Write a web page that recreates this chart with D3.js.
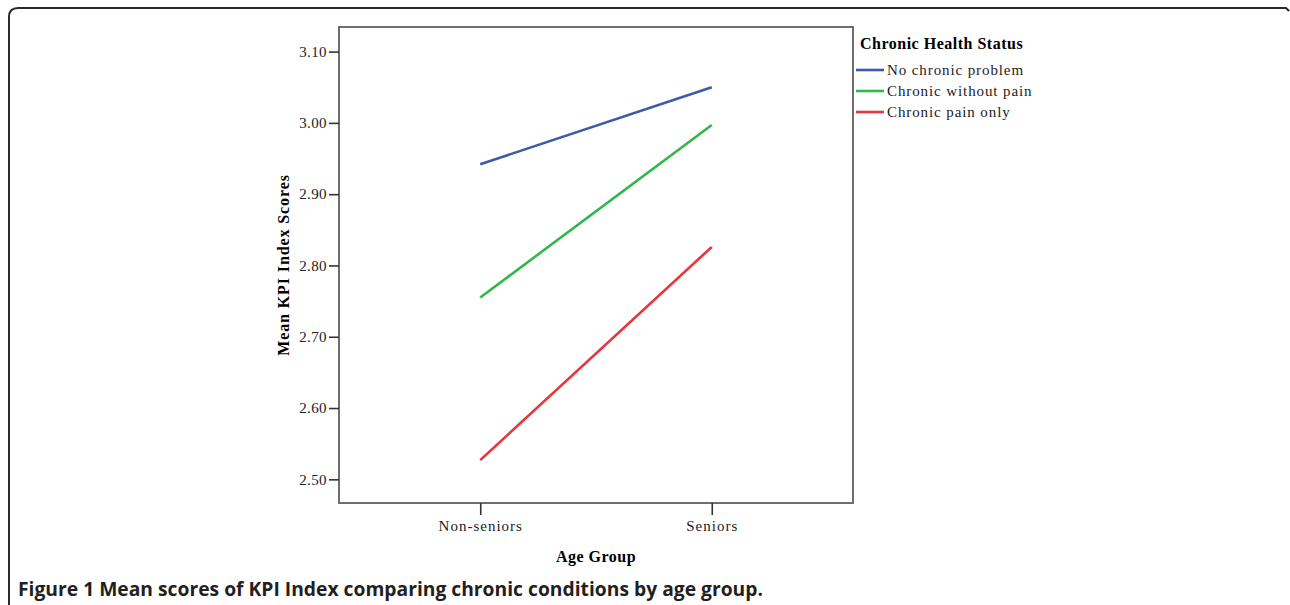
<!DOCTYPE html>
<html>
<head>
<meta charset="utf-8">
<script src="https://cdn.jsdelivr.net/npm/d3@7"></script>
<style>
  body { margin: 0; background: #fff; }
  svg { display: block; }
  .tick text { font-family: 'Liberation Serif', serif; font-size: 15px; fill: #222; letter-spacing: 0.4px; }
  .tick line { stroke: #333; stroke-width: 1.6; }
</style>
</head>
<body>
<svg width="1290" height="605"></svg>
<script>
// chart data
var ageGroups = ['Non-seniors', 'Seniors'];
var yTicks = [2.5, 2.6, 2.7, 2.8, 2.9, 3.0, 3.1];
var seriesNames = ['No chronic problem', 'Chronic without pain', 'Chronic pain only'];
var noChronic = [2.942, 3.050];
var chronicNoPain = [2.755, 2.997];
var chronicPainOnly = [2.527, 2.826];
var seriesColors = ['#3e58ac', '#2eb848', '#e8353b'];

var seriesValues = [noChronic, chronicNoPain, chronicPainOnly];

var svg = d3.select('svg');

// outer frame, rounded at the top-left like the page box
svg.append('path')
  .attr('d', 'M9,606 L9,17 Q9,8 18,8 L1286,8 L1289,11')
  .attr('fill', 'none')
  .attr('stroke', '#2a2a2a')
  .attr('stroke-width', 2);

var plot = { left: 339, right: 853, top: 27, bottom: 503 };

var x = d3.scalePoint()
  .domain(ageGroups)
  .range([plot.left, plot.right])
  .padding(0.61);

var y = d3.scaleLinear()
  .domain([2.4668, 3.1345])
  .range([plot.bottom, plot.top]);

// plot box
svg.append('rect')
  .attr('x', plot.left)
  .attr('y', plot.top)
  .attr('width', plot.right - plot.left)
  .attr('height', plot.bottom - plot.top)
  .attr('fill', 'none')
  .attr('stroke', '#4a4a4a')
  .attr('stroke-width', 1.6);

// y axis
svg.append('g')
  .attr('transform', 'translate(' + plot.left + ',0)')
  .call(d3.axisLeft(y).tickValues(yTicks).tickSize(10).tickPadding(2).tickFormat(d3.format('.2f')))
  .call(function (g) { g.select('.domain').remove(); });

// x axis
svg.append('g')
  .attr('transform', 'translate(0,' + plot.bottom + ')')
  .call(d3.axisBottom(x).tickSize(12).tickPadding(5))
  .call(function (g) { g.select('.domain').remove(); })
  .selectAll('text')
  .style('letter-spacing', '1px');

// axis titles
svg.append('text')
  .attr('transform', 'translate(283,' + (plot.top + plot.bottom) / 2 + ') rotate(-90)')
  .attr('text-anchor', 'middle')
  .attr('dominant-baseline', 'central')
  .style('font-family', "'Liberation Serif', serif")
  .style('font-weight', 'bold')
  .style('font-size', '16px')
  .style('letter-spacing', '0.9px')
  .text('Mean KPI Index Scores');

svg.append('text')
  .attr('x', (plot.left + plot.right) / 2)
  .attr('y', 562)
  .attr('text-anchor', 'middle')
  .style('font-family', "'Liberation Serif', serif")
  .style('font-weight', 'bold')
  .style('font-size', '16px')
  .style('letter-spacing', '0.5px')
  .text('Age Group');

// lines
var line = d3.line()
  .x(function (d, i) { return x(ageGroups[i]); })
  .y(function (d) { return y(d); });

svg.append('g')
  .selectAll('path')
  .data(seriesValues)
  .enter()
  .append('path')
  .attr('d', line)
  .attr('fill', 'none')
  .attr('stroke', function (d, i) { return seriesColors[i]; })
  .attr('stroke-width', 2.6);

// legend
var legend = svg.append('g').attr('transform', 'translate(856,0)');

legend.append('text')
  .attr('x', 4)
  .attr('y', 49)
  .style('font-family', "'Liberation Serif', serif")
  .style('font-weight', 'bold')
  .style('font-size', '16px')
  .style('letter-spacing', '0.5px')
  .text('Chronic Health Status');

var item = legend.selectAll('.item')
  .data(seriesNames)
  .enter()
  .append('g')
  .attr('class', 'item')
  .attr('transform', function (d, i) { return 'translate(0,' + (70 + i * 21) + ')'; });

item.append('line')
  .attr('x1', 0)
  .attr('x2', 28)
  .attr('stroke', function (d, i) { return seriesColors[i]; })
  .attr('stroke-width', 2.6);

item.append('text')
  .attr('x', 31)
  .attr('y', 5)
  .style('font-family', "'Liberation Serif', serif")
  .style('font-size', '15px')
  .style('letter-spacing', '0.9px')
  .style('fill', '#222')
  .text(function (d) { return d; });

// caption, sized so it spans the same width as in the figure
var caption = svg.append('text')
  .attr('x', 18)
  .attr('y', 596)
  .style('font-family', "'Open Sans', sans-serif")
  .style('font-weight', 'bold')
  .style('font-size', '17px')
  .style('fill', '#231f20')
  .text('Figure 1 Mean scores of KPI Index comparing chronic conditions by age group.');

var captionWidth = caption.node().getComputedTextLength();
caption.style('font-size', (17 * 745 / captionWidth).toFixed(2) + 'px');
</script>
</body>
</html>
